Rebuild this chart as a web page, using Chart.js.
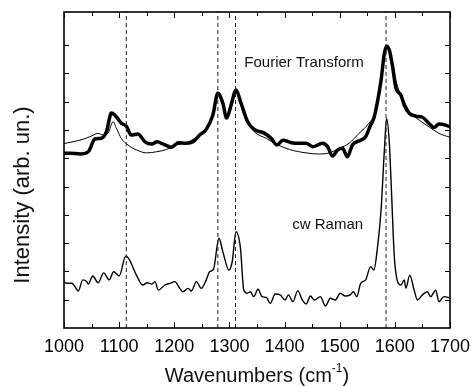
<!DOCTYPE html>
<html><head><meta charset="utf-8">
<script src="https://cdn.jsdelivr.net/npm/chart.js@4"></script>
<style>html,body{margin:0;padding:0;background:#fff}#wrap{width:472px;height:386px}</style>
</head><body><div id="wrap"><canvas id="c" width="472" height="386"></canvas></div>
<script>
// ---- data ----
const ftWavenumbers = [1000,1011,1029,1044,1056,1068,1077,1086,1092,1104,1113,1122,1134,1147,1159,1169,1180,1195,1207,1222,1234,1246,1258,1270,1279,1288,1295,1303,1312,1321,1333,1345,1364,1376,1386,1397,1412,1427,1439,1451,1469,1478,1487,1496,1505,1514,1523,1538,1547,1556,1562,1568,1575,1581,1585,1590,1596,1602,1611,1617,1626,1638,1650,1662,1671,1680,1692,1700];
const ftIntensity = [6.18,6.18,6.15,6.23,6.68,6.71,6.94,7.60,7.53,7.24,7.14,6.82,6.86,6.58,6.50,6.58,6.50,6.39,6.55,6.53,6.58,6.82,7.02,7.53,8.30,7.95,7.42,7.88,8.41,7.95,7.29,7.02,6.88,6.70,6.47,6.64,6.55,6.53,6.53,6.41,6.53,6.41,6.08,6.29,6.35,6.05,6.47,6.64,6.76,7.17,7.42,7.95,8.76,9.71,9.96,9.82,9.23,8.47,8.23,7.88,7.59,7.49,7.45,7.23,7.09,7.21,7.17,7.11];

const fitWavenumbers = [1000,1029,1047,1062,1071,1080,1089,1095,1104,1116,1132,1150,1168,1186,1204,1222,1240,1258,1270,1279,1288,1295,1303,1312,1321,1333,1345,1367,1385,1409,1439,1463,1481,1499,1517,1535,1553,1566,1575,1584,1590,1596,1605,1617,1629,1644,1662,1680,1700];
const fitIntensity = [6.52,6.64,6.76,6.88,6.82,6.89,7.29,7.06,6.70,6.47,6.29,6.19,6.23,6.31,6.47,6.55,6.74,7.00,7.47,8.23,7.92,7.46,7.84,8.37,7.92,7.28,6.94,6.70,6.50,6.31,6.19,6.15,6.19,6.35,6.53,6.88,7.24,7.70,8.76,9.88,9.75,9.23,8.53,8.00,7.59,7.35,7.11,6.88,6.74];

const ramanWavenumbers = [1000,1005,1014,1020,1026,1034,1041,1044,1052,1062,1072,1082,1090,1100,1112,1119,1127,1134,1143,1151,1159,1165,1171,1183,1192,1201,1210,1216,1225,1231,1240,1249,1258,1264,1271,1281,1288,1299,1305,1312,1320,1326,1332,1338,1344,1352,1359,1367,1374,1383,1392,1401,1407,1415,1424,1432,1439,1447,1454,1465,1474,1483,1492,1501,1510,1519,1525,1531,1538,1547,1556,1562,1568,1575,1581,1585,1590,1594,1599,1605,1611,1617,1620,1627,1635,1641,1650,1659,1665,1674,1680,1689,1700];
const ramanIntensity = [1.63,1.58,1.58,1.46,1.31,1.70,1.64,1.55,1.84,1.60,1.95,1.70,1.99,1.84,2.54,2.40,2.05,1.76,1.52,1.60,1.55,1.64,1.34,1.52,1.58,1.64,1.40,1.28,1.40,1.31,1.64,1.40,1.70,1.99,2.07,3.17,2.70,2.05,2.34,3.40,2.82,1.34,1.23,1.28,1.11,1.37,1.11,1.08,0.87,1.20,1.17,0.99,1.17,0.93,1.32,0.99,0.85,1.13,0.99,1.11,0.78,1.05,0.99,1.23,1.13,1.17,1.28,1.11,1.58,1.70,2.17,2.05,2.76,4.17,6.29,7.41,6.53,4.77,2.52,1.64,1.52,1.70,1.41,1.87,1.34,0.99,1.17,1.28,1.11,1.34,0.93,1.11,1.06];

const peakPositions = [1113, 1279, 1311, 1584];
const xTickLabels = [1000, 1100, 1200, 1300, 1400, 1500, 1600, 1700];
const xMinorTicks = [1050, 1150, 1250, 1350, 1450, 1550, 1650];
const yTickValues = [1, 2, 3, 4, 5, 6, 7, 8, 9, 10];
const yRange = [0, 11.17];
const xTitle = 'Wavenumbers (cm';
const xTitleSup = '-1';
const yTitle = 'Intensity (arb. un.)';
const seriesLabels = ['Fourier Transform', 'cw Raman'];
const seriesLabelPos = [[1327, 9.36], [1414, 3.64]];

// ---- build datasets ----
const pts = (xs, ys) => xs.map((v, i) => ({x: v, y: ys[i]}));
const FONT = '"Liberation Sans", Arial, Helvetica, sans-serif';

const datasets = [];
peakPositions.forEach(p => datasets.push({
  data: [{x: p, y: yRange[0]}, {x: p, y: yRange[1]}],
  borderColor: '#222', borderWidth: 1, borderDash: [4, 3], pointRadius: 0, tension: 0
}));
datasets.push({data: pts(fitWavenumbers, fitIntensity), borderColor: '#000', borderWidth: 1, pointRadius: 0, cubicInterpolationMode: 'monotone'});
datasets.push({data: pts(ftWavenumbers, ftIntensity), borderColor: '#000', borderWidth: 3.5, pointRadius: 0, cubicInterpolationMode: 'monotone'});
datasets.push({data: pts(ramanWavenumbers, ramanIntensity), borderColor: '#000', borderWidth: 1.4, pointRadius: 0, cubicInterpolationMode: 'monotone'});

const decor = {
  id: 'decor',
  afterDatasetsDraw(chart) {
    const {ctx, chartArea: a, scales: {x, y}} = chart;
    ctx.save();
    ctx.strokeStyle = '#000';
    ctx.lineWidth = 1.6;
    ctx.strokeRect(a.left, a.top, a.right - a.left, a.bottom - a.top);
    ctx.lineWidth = 1;
    ctx.beginPath();
    xTickLabels.forEach(v => {
      const px = Math.round(x.getPixelForValue(v)) + 0.5;
      ctx.moveTo(px, a.bottom); ctx.lineTo(px, a.bottom - 6);
      ctx.moveTo(px, a.top); ctx.lineTo(px, a.top + 6);
    });
    xMinorTicks.forEach(v => {
      const px = Math.round(x.getPixelForValue(v)) + 0.5;
      ctx.moveTo(px, a.bottom); ctx.lineTo(px, a.bottom - 4);
      ctx.moveTo(px, a.top); ctx.lineTo(px, a.top + 4);
    });
    yTickValues.forEach(v => {
      const py = Math.round(y.getPixelForValue(v)) + 0.5;
      ctx.moveTo(a.left, py); ctx.lineTo(a.left + 5, py);
      ctx.moveTo(a.right, py); ctx.lineTo(a.right - 5, py);
    });
    ctx.stroke();

    ctx.fillStyle = '#111';
    ctx.font = '15px ' + FONT;
    ctx.textBaseline = 'middle';
    ctx.textAlign = 'left';
    seriesLabels.forEach((t, i) => {
      ctx.fillText(t, x.getPixelForValue(seriesLabelPos[i][0]), y.getPixelForValue(seriesLabelPos[i][1]));
    });

    // axis titles
    ctx.font = '20px ' + FONT;
    ctx.textBaseline = 'alphabetic';
    const w1 = ctx.measureText(xTitle).width;
    ctx.font = '12px ' + FONT;
    const w2 = ctx.measureText(xTitleSup).width;
    ctx.font = '20px ' + FONT;
    const w3 = ctx.measureText(')').width;
    const cx = (a.left + a.right) / 2;
    let sx = cx - (w1 + w2 + w3) / 2;
    const by = 382;
    ctx.fillText(xTitle, sx, by);
    ctx.font = '12px ' + FONT;
    ctx.fillText(xTitleSup, sx + w1, by - 10);
    ctx.font = '20px ' + FONT;
    ctx.fillText(')', sx + w1 + w2, by);

    ctx.translate(23, 195);
    ctx.rotate(-Math.PI / 2);
    ctx.font = '22px ' + FONT;
    ctx.textAlign = 'center';
    ctx.textBaseline = 'middle';
    ctx.fillText(yTitle, 0, 0);
    ctx.restore();
  }
};

new Chart(document.getElementById('c'), {
  type: 'line',
  data: {datasets},
  options: {
    responsive: false,
    animation: false,
    events: [],
    layout: {padding: {left: 0, right: 22, top: 12, bottom: 0}},
    plugins: {legend: {display: false}, tooltip: {enabled: false}},
    scales: {
      x: {
        type: 'linear', min: xTickLabels[0], max: xTickLabels[xTickLabels.length - 1],
        grid: {display: false, drawTicks: false},
        border: {display: false},
        afterBuildTicks: s => { s.ticks = xTickLabels.map(v => ({value: v})); },
        ticks: {color: '#000', font: {family: FONT, size: 18}, padding: 8, maxRotation: 0, autoSkip: false,
                callback: v => String(v)},
        afterFit: s => { s.height = 58; s.paddingLeft = 0; s.paddingRight = 0; }
      },
      y: {
        type: 'linear', min: yRange[0], max: yRange[1],
        grid: {display: false, drawTicks: false},
        border: {display: false},
        ticks: {display: false},
        afterFit: s => { s.width = 64; s.paddingTop = 0; s.paddingBottom = 0; }
      }
    }
  },
  plugins: [decor]
});
</script>
</body></html>
